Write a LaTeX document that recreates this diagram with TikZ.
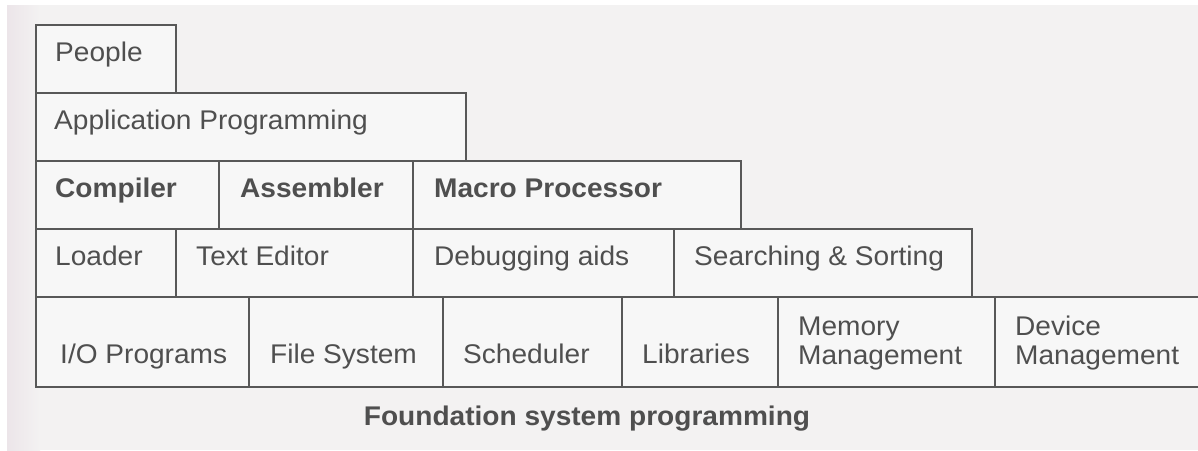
\documentclass[tikz,border=0pt]{standalone}
\usepackage{fontspec}
\setmainfont{Liberation Sans}[FakeStretch=1.04]
\definecolor{scan}{HTML}{F3F2F2}
\definecolor{scanedge}{HTML}{ECE5E9}
\definecolor{cellfill}{HTML}{F7F7F7}
\definecolor{rule}{HTML}{585858}
\definecolor{ink}{HTML}{4F4F4F}
\begin{document}
\begin{tikzpicture}[x=1pt,y=-1pt,
  cell/.style={draw=rule, fill=cellfill, line width=2.2pt, rectangle,
               anchor=north west, inner sep=0pt, outer sep=0pt},
  lbl/.style={anchor=base west, inner sep=0pt, text=ink,
              font=\fontsize{27}{30}\selectfont},
  blbl/.style={lbl, font=\fontsize{27}{30}\selectfont\bfseries},
]
% paper and scanned page
\useasboundingbox (0,0) rectangle (1198,450);
\fill[white] (0,0) rectangle (1198,450);
\fill[scan] (7,5) rectangle (1198,450);
\shade[left color=scanedge, right color=scan] (7,5) rectangle (40,450);
\clip (0,0) rectangle (1198,450);

% layer 1
\node[cell, minimum width=140, minimum height=68] (people) at (36,25) {};
% layer 2
\node[cell, minimum width=430, minimum height=68] (app) at (36,93) {};
% layer 3
\node[cell, minimum width=183, minimum height=68] (compiler) at (36,161) {};
\node[cell, minimum width=194, minimum height=68] (assembler) at (219,161) {};
\node[cell, minimum width=328, minimum height=68] (macro) at (413,161) {};
% layer 4
\node[cell, minimum width=140, minimum height=68] (loader) at (36,229) {};
\node[cell, minimum width=237, minimum height=68] (editor) at (176,229) {};
\node[cell, minimum width=261, minimum height=68] (debug) at (413,229) {};
\node[cell, minimum width=298, minimum height=68] (search) at (674,229) {};
% layer 5 (foundation)
\node[cell, minimum width=213, minimum height=90] (io) at (36,297) {};
\node[cell, minimum width=194, minimum height=90] (fs) at (249,297) {};
\node[cell, minimum width=179, minimum height=90] (sched) at (443,297) {};
\node[cell, minimum width=156, minimum height=90] (libs) at (622,297) {};
\node[cell, minimum width=217, minimum height=90] (mem) at (778,297) {};
\node[cell, minimum width=230, minimum height=90] (dev) at (995,297) {};

% labels
\node[lbl] (people-l) at ([shift={(19,36)}]people.north west) {People};
\node[lbl] (app-l) at ([shift={(18,36)}]app.north west) {Application Programming};
\node[blbl] (compiler-l) at ([shift={(19,36)}]compiler.north west) {Compiler};
\node[blbl] (assembler-l) at ([shift={(21,36)}]assembler.north west) {Assembler};
\node[blbl] (macro-l) at ([shift={(21,36)}]macro.north west) {Macro Processor};
\node[lbl] (loader-l) at ([shift={(19,36)}]loader.north west) {Loader};
\node[lbl] (editor-l) at ([shift={(20,36)}]editor.north west) {Text Editor};
\node[lbl] (debug-l) at ([shift={(21,36)}]debug.north west) {Debugging aids};
\node[lbl] (search-l) at ([shift={(20,36)}]search.north west) {Searching \& Sorting};
\node[lbl] (io-l) at ([shift={(24,66)}]io.north west) {I/O Programs};
\node[lbl] (fs-l) at ([shift={(21,66)}]fs.north west) {File System};
\node[lbl] (sched-l) at ([shift={(20,66)}]sched.north west) {Scheduler};
\node[lbl] (libs-l) at ([shift={(20,66)}]libs.north west) {Libraries};
\node[lbl] (mem-l1) at ([shift={(20,38)}]mem.north west) {Memory};
\node[lbl] (mem-l2) at ([shift={(20,67)}]mem.north west) {Management};
\node[lbl] (dev-l1) at ([shift={(20,38)}]dev.north west) {Device};
\node[lbl] (dev-l2) at ([shift={(20,67)}]dev.north west) {Management};

% caption
\node[blbl, anchor=base] (caption) at (587,425) {Foundation system programming};
\end{tikzpicture}
\end{document}
